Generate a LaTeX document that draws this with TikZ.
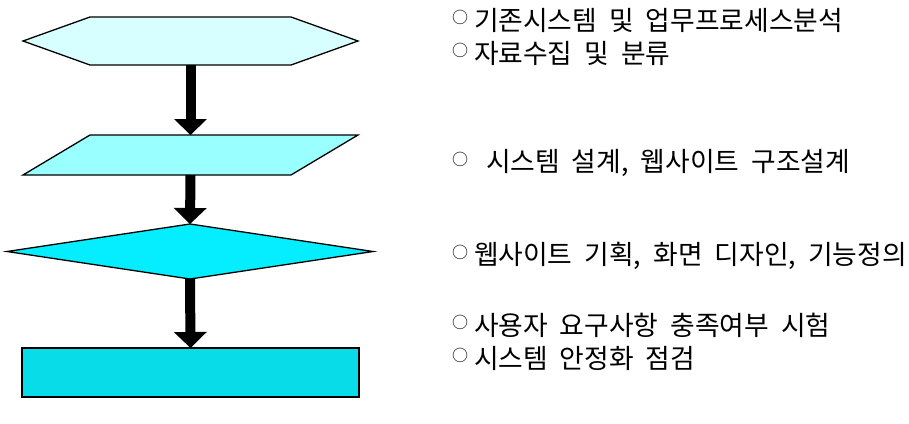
\documentclass[tikz,border=0pt]{standalone}
\usepackage{fontspec}
\usepackage{tikz}
\usetikzlibrary{arrows.meta,calc}
\newfontfamily\kr[WordSpace=2.0]{Noto Sans CJK KR}
\newcommand{\bul}{\raisebox{6.5pt}{\fontsize{16pt}{16pt}\selectfont ○}\hspace{6pt}}
\definecolor{hexcyan}{HTML}{D7FFFF}
\definecolor{paracyan}{HTML}{99FFFF}
\definecolor{diacyan}{HTML}{05EEFF}
\definecolor{boxcyan}{HTML}{08DCE8}

\begin{document}
\begin{tikzpicture}[x=1pt,y=-1pt,
                    every node/.append style={inner sep=0pt,outer sep=0pt},
                    stage/.style 2 args={minimum width=#1,minimum height=#2},
                    outline/.style={draw=black,line width=1.3pt,line join=miter},
                    flow/.style={line width=10pt,
                      -{Triangle[width=33pt,length=16pt,line width=0pt]}},
                    note/.style={anchor=west,font=\kr\fontsize{26.8pt}{32pt}\selectfont}]
    \useasboundingbox (0,0) rectangle (909,423);
    \node[stage={335}{48}] (hex) at (190.5,41) {};
    \node[stage={335}{40}] (para) at (190.5,155) {};
    \node[stage={366}{55}] (dia) at (190,251.5) {};
    \node[stage={337}{49},outline,fill=boxcyan] (test) at (190.5,372.5) {};
    \draw[outline,fill=hexcyan] (hex.west) -- ([xshift=67pt]hex.north west)
      -- ([xshift=-67pt]hex.north east) -- (hex.east)
      -- ([xshift=-67pt]hex.south east) -- ([xshift=67pt]hex.south west) -- cycle;
    \draw[outline,fill=paracyan] ([xshift=67pt]para.north west) -- (para.north east)
      -- ([xshift=-67pt]para.south east) -- (para.south west) -- cycle;
    \draw[outline,fill=diacyan] (dia.west) -- (dia.north) -- (dia.east)
      -- (dia.south) -- cycle;
    \draw[flow] (hex.south) -- (para.north);
    \draw[flow] (para.south) -- (dia.north);
    \draw[flow] (dia.south) -- (test.north);
    \node[note] (anal1) at (452,20) {\bul 기존시스템 및 업무프로세스분석};
    \node[note] (anal2) at (452,53) {\bul 자료수집 및 분류};
    \node[note] (design) at (452,163) {\bul\ 시스템 설계, 웹사이트 구조설계};
    \node[note] (plan) at (452,256) {\bul 웹사이트 기획, 화면 디자인, 기능정의};
    \node[note] (check1) at (452,325) {\bul 사용자 요구사항 충족여부 시험};
    \node[note] (check2) at (452,358) {\bul 시스템 안정화 점검};
\end{tikzpicture}
\end{document}
